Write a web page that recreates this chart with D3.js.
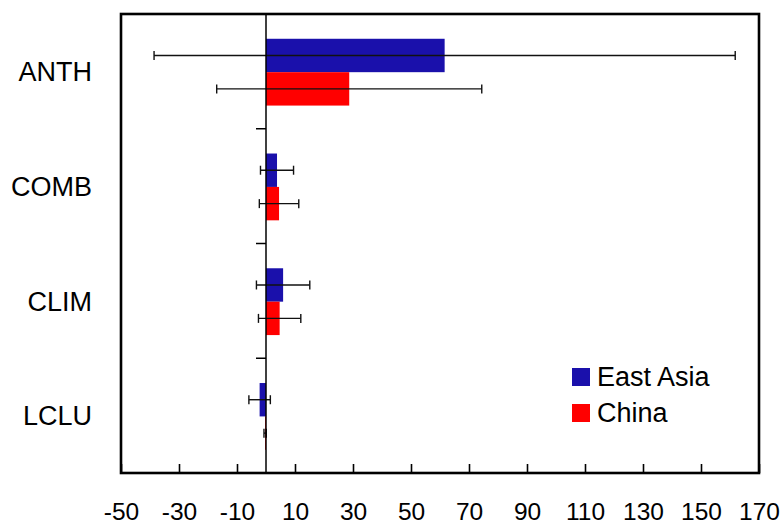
<!DOCTYPE html>
<html>
<head>
<meta charset="utf-8">
<script src="https://cdn.jsdelivr.net/npm/d3@7"></script>
<style>
  body { margin: 0; background: #fff; }
  svg { display: block; font-family: "Liberation Sans", Arial, sans-serif; }
</style>
</head>
<body>
<svg id="chart" width="783" height="525"></svg>
<script>
const categories = ['ANTH', 'COMB', 'CLIM', 'LCLU']
const seriesNames = ['East Asia', 'China']
const colors = ['#1a10ab', '#ff0000']
// mean values and half-width of the error bars, per category
const eastAsia = [61.6, 3.8, 5.9, -2.2]
const eastAsiaErr = [100.2, 5.7, 9.2, 3.7]
const china = [28.7, 4.5, 4.7, -0.3]
const chinaErr = [45.7, 6.8, 7.3, 0.4]
const xTicks = d3.range(-50, 171, 20)

const margin = { top: 14, right: 24, bottom: 52, left: 121 }
const width = 783
const height = 525
const svg = d3.select('#chart')

const x = d3.scaleLinear()
  .domain([-50, 170])
  .range([margin.left, width - margin.right])

const y = d3.scaleBand()
  .domain(categories)
  .range([margin.top, height - margin.bottom])

const barH = 33.4
const sub = d3.scaleBand()
  .domain(seriesNames)
  .range([y.bandwidth() / 2 - barH + 0.8, y.bandwidth() / 2 + barH + 0.8])

const rows = categories.flatMap((cat, i) => [
  { cat, series: seriesNames[0], value: eastAsia[i], err: eastAsiaErr[i], color: colors[0] },
  { cat, series: seriesNames[1], value: china[i], err: chinaErr[i], color: colors[1] },
])

// bars
svg.append('g')
  .selectAll('rect')
  .data(rows)
  .join('rect')
  .attr('x', (d) => x(Math.min(0, d.value)))
  .attr('width', (d) => Math.abs(x(d.value) - x(0)))
  .attr('y', (d) => y(d.cat) + sub(d.series))
  .attr('height', sub.bandwidth())
  .attr('fill', (d) => d.color)

// error bars
const errG = svg.append('g')
  .attr('stroke', '#111')
  .attr('stroke-width', 1.4)
  .attr('fill', 'none')
  .selectAll('g')
  .data(rows)
  .join('g')
  .attr('transform', (d) => `translate(0,${y(d.cat) + sub(d.series) + sub.bandwidth() / 2})`)

errG.append('line')
  .attr('x1', (d) => x(d.value - d.err))
  .attr('x2', (d) => x(d.value + d.err))
errG.append('line')
  .attr('x1', (d) => x(d.value - d.err))
  .attr('x2', (d) => x(d.value - d.err))
  .attr('y1', -4.5)
  .attr('y2', 4.5)
errG.append('line')
  .attr('x1', (d) => x(d.value + d.err))
  .attr('x2', (d) => x(d.value + d.err))
  .attr('y1', -4.5)
  .attr('y2', 4.5)

// zero line with category separators
const zeroG = svg.append('g').attr('stroke', '#000').attr('stroke-width', 1.5)
zeroG.append('line')
  .attr('x1', x(0)).attr('x2', x(0))
  .attr('y1', margin.top).attr('y2', height - margin.bottom)
zeroG.selectAll('.sep')
  .data(categories.slice(1))
  .join('line')
  .attr('class', 'sep')
  .attr('x1', x(0) - 10).attr('x2', x(0))
  .attr('y1', (d) => y(d)).attr('y2', (d) => y(d))

// x axis (plain hyphen minus, as in the original figure)
const xAxis = svg.append('g')
  .attr('transform', `translate(0,${height - margin.bottom})`)
  .call(d3.axisBottom(x)
    .tickValues(xTicks)
    .tickFormat((d) => String(d))
    .tickSizeInner(-9)
    .tickSizeOuter(0)
    .tickPadding(30))
xAxis.select('.domain').remove()
xAxis.selectAll('line').attr('stroke', '#000').attr('stroke-width', 1.6)
xAxis.selectAll('text')
  .attr('font-size', 24.5)
  .attr('font-family', '"Liberation Sans", Arial, sans-serif')
  .attr('fill', '#000')

// category labels
svg.append('g')
  .selectAll('text')
  .data(categories)
  .join('text')
  .attr('x', 92)
  .attr('y', (d) => y(d) + y.bandwidth() / 2 + 9.7)
  .attr('text-anchor', 'end')
  .attr('font-size', 27)
  .attr('fill', '#000')
  .text((d) => d)

// frame
svg.append('rect')
  .attr('x', margin.left)
  .attr('y', margin.top)
  .attr('width', width - margin.left - margin.right)
  .attr('height', height - margin.top - margin.bottom)
  .attr('fill', 'none')
  .attr('stroke', '#000')
  .attr('stroke-width', 2.6)

// legend
const legend = svg.append('g')
  .attr('transform', 'translate(572,368)')
  .selectAll('g')
  .data(seriesNames)
  .join('g')
  .attr('transform', (d, i) => `translate(0,${i * 36})`)
legend.append('rect')
  .attr('width', 18)
  .attr('height', 18)
  .attr('fill', (d, i) => colors[i])
legend.append('text')
  .attr('x', 25)
  .attr('y', 18)
  .attr('font-size', 27)
  .attr('fill', '#000')
  .text((d) => d)
</script>
</body>
</html>
